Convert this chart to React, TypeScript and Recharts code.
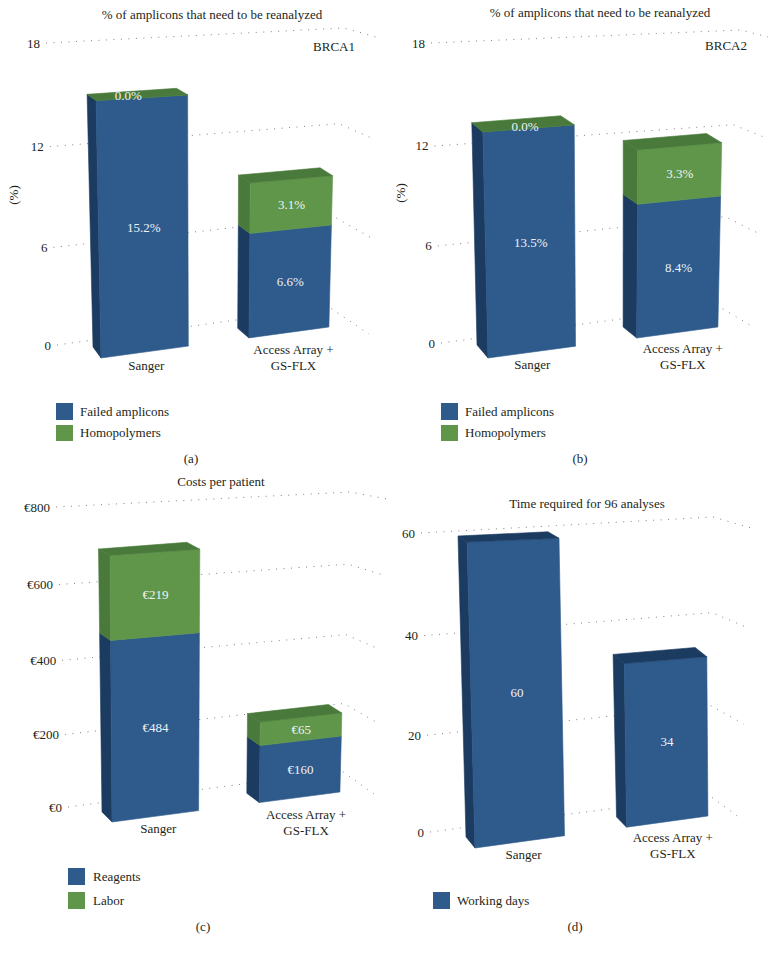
import React from "react";
import { BarChart, Bar, XAxis, YAxis, CartesianGrid, Legend, LabelList } from "recharts";

const categories = ["Sanger", "Access Array + GS-FLX"];
const brca1Failed = [15.2, 6.6];
const brca1Homo = [0.0, 3.1];
const brca2Failed = [13.5, 8.4];
const brca2Homo = [0.0, 3.3];
const costReagents = [484, 160];
const costLabor = [219, 65];
const timeDays = [60, 34];
const percentTicks = [0, 6, 12, 18];
const euroTicks = [0, 200, 400, 600, 800];
const dayTicks = [0, 20, 40, 60];

const BLUE = "#2E5A8C";
const BLUE_D = "#1C3B60";
const GREEN = "#5F964A";
const GREEN_D = "#4A7A3B";
const FONT = "'Liberation Serif', serif";
const TXT = "#231f20";
const FS = 13;
const GAP = 0.105; // bar inset from the edges of its half of the plot, as a share of plot width

type Pt = [number, number];
type Quad = [Pt, Pt, Pt, Pt]; // (first bar left, v=0),(last bar right, v=0),(last bar right, v=1),(first bar left, v=1)

function homography(q: Quad) {
  const [[x0, y0], [x1, y1], [x2, y2], [x3, y3]] = q;
  const dx1 = x1 - x2, dx2 = x3 - x2, dy1 = y1 - y2, dy2 = y3 - y2;
  const sx = x0 - x1 + x2 - x3, sy = y0 - y1 + y2 - y3;
  const den = dx1 * dy2 - dx2 * dy1;
  const g = (sx * dy2 - dx2 * sy) / den;
  const h = (dx1 * sy - sx * dy1) / den;
  const a = x1 - x0 + g * x1, b = x3 - x0 + h * x3;
  const d = y1 - y0 + g * y1, e = y3 - y0 + h * y3;
  return (u: number, v: number): Pt => {
    const s = (u - GAP) / (1 - 2 * GAP);
    const w = g * s + h * v + 1;
    return [(a * s + b * v + x0) / w, (d * s + e * v + y0) / w];
  };
}

type Series = { name: string; key: string; values: number[]; color: string; side: string; fmt: (n: number) => string };
type PanelCfg = {
  box: [number, number, number, number];
  series: Series[];
  max: number;
  ticks: number[];
  tickFmt: (n: number) => string;
  front: Quad;
  back: Quad;
  wall: { l0: Pt; l1: Pt; b0: Pt; b1: Pt; e0: Pt; e1: Pt };
  labelOff: [Pt, Pt];
  zeroDx: number;
  legend: { x: number; y: number; gap: number; textDx: number };
  texts: { t: string; x: number; y: number; rot?: boolean }[];
};

const pct = (n: number) => n.toFixed(1) + "%";
const eur = (n: number) => "€" + n;
const plain = (n: number) => String(n);

const panels: PanelCfg[] = [
  {
    box: [0, 0, 388, 470],
    series: [
      { name: "Failed amplicons", key: "a", values: brca1Failed, color: BLUE, side: BLUE_D, fmt: pct },
      { name: "Homopolymers", key: "b", values: brca1Homo, color: GREEN, side: GREEN_D, fmt: pct },
    ],
    max: 18, ticks: percentTicks, tickFmt: plain,
    front: [[101, 358], [329, 327], [336, 39], [95, 50]],
    back: [[93, 347], [317, 318], [323, 32], [86, 45]],
    wall: { l0: [57, 345], l1: [46, 43], b0: [329, 307], b1: [344, 28], e0: [369, 334], e1: [376, 37] },
    labelOff: [[1, 14], [4, 17]],
    zeroDx: -14,
    legend: { x: 56, y: 403, gap: 21.5, textDx: 24 },
    texts: [
      { t: "% of amplicons that need to be reanalyzed", x: 212, y: 15 },
      { t: "BRCA1", x: 334, y: 47 },
      { t: "(%)", x: 14, y: 195, rot: true },
      { t: "(a)", x: 191, y: 459 },
    ],
  },
  {
    box: [388, 0, 388, 470],
    series: [
      { name: "Failed amplicons", key: "a", values: brca2Failed, color: BLUE, side: BLUE_D, fmt: pct },
      { name: "Homopolymers", key: "b", values: brca2Homo, color: GREEN, side: GREEN_D, fmt: pct },
    ],
    max: 18, ticks: percentTicks, tickFmt: plain,
    front: [[488, 358], [718, 327], [724, 38], [481, 52]],
    back: [[477, 345], [704, 317], [708, 30], [470, 45]],
    wall: { l0: [441, 343], l1: [431, 43], b0: [718, 306], b1: [741, 30], e0: [755, 328], e1: [768, 37] },
    labelOff: [[0, 12], [5, 16]],
    zeroDx: -4,
    legend: { x: 441, y: 403, gap: 21.5, textDx: 24 },
    texts: [
      { t: "% of amplicons that need to be reanalyzed", x: 600, y: 13 },
      { t: "BRCA2", x: 726, y: 46 },
      { t: "(%)", x: 401, y: 193, rot: true },
      { t: "(b)", x: 580, y: 459 },
    ],
  },
  {
    box: [0, 470, 388, 483],
    series: [
      { name: "Reagents", key: "a", values: costReagents, color: BLUE, side: BLUE_D, fmt: eur },
      { name: "Labor", key: "b", values: costLabor, color: GREEN, side: GREEN_D, fmt: eur },
    ],
    max: 800, ticks: euroTicks, tickFmt: eur,
    front: [[112, 822], [340, 792], [347, 503], [109.7, 517]],
    back: [[102, 812], [327, 783], [333, 495], [98, 511]],
    wall: { l0: [68, 807], l1: [56, 507], b0: [342, 771], b1: [350, 492], e0: [374, 794], e1: [387, 499] },
    labelOff: [[2.5, 12.5], [6, 17.5]],
    zeroDx: 0,
    legend: { x: 68, y: 868, gap: 24, textDx: 25 },
    texts: [
      { t: "Costs per patient", x: 221, y: 482 },
      { t: "(c)", x: 203, y: 927 },
    ],
  },
  {
    box: [388, 470, 388, 483],
    series: [
      { name: "Working days", key: "a", values: timeDays, color: BLUE, side: BLUE_D, fmt: plain },
    ],
    max: 60, ticks: dayTicks, tickFmt: plain,
    front: [[475, 848], [708, 816], [706, 532], [467, 542]],
    back: [[466, 837], [698, 806], [693, 525], [458, 536]],
    wall: { l0: [430, 832], l1: [421, 533], b0: [710, 796], b1: [713, 517], e0: [740, 818], e1: [751, 528] },
    labelOff: [[3, 13], [5, 15.5]],
    zeroDx: 0,
    legend: { x: 433, y: 892, gap: 24, textDx: 24 },
    texts: [
      { t: "Time required for 96 analyses", x: 587, y: 504 },
      { t: "(d)", x: 575, y: 927 },
    ],
  },
];

const PL = 50, PR = 10, PT = 30, PB = 60;
const lerp = (a: Pt, b: Pt, t: number): Pt => [a[0] + (b[0] - a[0]) * t, a[1] + (b[1] - a[1]) * t];
const poly = (pts: Pt[]) => pts.map((p) => p[0].toFixed(1) + "," + p[1].toFixed(1)).join(" ");

function Panel({ cfg }: { cfg: PanelCfg }) {
  const [bx, by, W, H] = cfg.box;
  const pw = W - PL - PR;
  const ph = H - PT - PB;
  const bottom = H - PB;
  const F = homography(cfg.front.map((p) => [p[0] - bx, p[1] - by]) as Quad);
  const Bk = homography(cfg.back.map((p) => [p[0] - bx, p[1] - by]) as Quad);
  const toU = (x: number) => (x - PL) / pw;
  const toV = (y: number) => (bottom - y) / ph;
  const P = (u: number, v: number, d: number) => lerp(F(u, v), Bk(u, v), d);
  const warp = (v: number) => v / (1 + 0.045 * (1 - v));
  const local = (p: Pt): Pt => [p[0] - bx, p[1] - by];
  const wall = (v: number) => {
    const t = warp(v);
    return {
      l: lerp(local(cfg.wall.l0), local(cfg.wall.l1), t),
      b: lerp(local(cfg.wall.b0), local(cfg.wall.b1), t),
      e: lerp(local(cfg.wall.e0), local(cfg.wall.e1), t),
    };
  };
  const data = categories.map((c, i) => {
    const row: Record<string, number | string> = { name: c };
    cfg.series.forEach((s) => (row[s.key] = s.values[i]));
    return row;
  });

  const gridLine = (p: any) => {
    const w = wall(toV(p.y1));
    return (
      <polyline
        key={p.key ?? p.index}
        points={poly([w.l, w.b, w.e])}
        fill="none"
        stroke="#808080"
        strokeWidth={1}
        strokeDasharray="1 6.5"
      />
    );
  };

  const yTick = (p: any) => {
    const w = wall(toV(p.y));
    return (
      <text x={w.l[0] - 6} y={w.l[1]} textAnchor="end" dominantBaseline="central" fontFamily={FONT} fontSize={FS} fill={TXT}>
        {cfg.tickFmt(p.payload.value)}
      </text>
    );
  };

  const xTick = (p: any) => {
    const i = p.index ?? categories.indexOf(p.payload.value);
    const base = P(toU(p.x), 0, 0);
    const off = cfg.labelOff[i];
    const lines = String(p.payload.value).replace("+ ", "+\n").split("\n");
    return (
      <g>
        {lines.map((l, k) => (
          <text key={k} x={base[0] + off[0]} y={base[1] + off[1] + k * 16} textAnchor="middle" dominantBaseline="central" fontFamily={FONT} fontSize={FS} fill={TXT}>
            {l}
          </text>
        ))}
      </g>
    );
  };

  const face = (pts: Pt[], fill: string) => (
    <polygon points={poly(pts)} fill={fill} stroke={fill} strokeWidth={0.6} strokeLinejoin="round" />
  );

  const makeShape = (s: Series, isTop: boolean) => (p: any) => {
    const yTop = Math.min(p.y, p.y + p.height);
    const yBot = Math.max(p.y, p.y + p.height);
    const u0 = toU(p.x), u1 = toU(p.x + p.width);
    const vb = toV(yBot), vt = toV(yTop);
    return (
      <g>
        {face([P(u0, vb, 0), P(u0, vt, 0), P(u0, vt, 1), P(u0, vb, 1)], s.side)}
        {face([P(u0, vb, 0), P(u1, vb, 0), P(u1, vt, 0), P(u0, vt, 0)], s.color)}
        {isTop && face([P(u0, vt, 0), P(u1, vt, 0), P(u1, vt, 1), P(u0, vt, 1)], s.side)}
      </g>
    );
  };

  const makeLabel = (s: Series) => (p: any) => {
    const yTop = Math.min(p.y, p.y + p.height);
    const yBot = Math.max(p.y, p.y + p.height);
    const c = P(toU(p.x + p.width / 2), toV((yTop + yBot) / 2), 0);
    const zero = Number(p.value) === 0;
    return (
      <text x={c[0] + (zero ? cfg.zeroDx : 0)} y={c[1] + (zero ? -2 : 0)} textAnchor="middle" dominantBaseline="central" fontFamily={FONT} fontSize={FS} fill="#eef3f7">
        {s.fmt(Number(p.value))}
      </text>
    );
  };

  const legendContent = (props: any) => {
    const order = (it: any) => cfg.series.findIndex((s) => s.name === it.value);
    const items = [...(props.payload || [])].sort((a: any, b: any) => order(a) - order(b));
    return (
      <div style={{ position: "relative", width: 170, height: cfg.legend.gap * 2 + 17 }}>
        {items.map((it: any, i: number) => (
          <div key={i} style={{ position: "absolute", left: 0, top: i * cfg.legend.gap, height: 17, display: "flex", alignItems: "center", whiteSpace: "nowrap" }}>
            <span style={{ display: "inline-block", width: 16.5, height: 16.5, background: it.color, marginRight: cfg.legend.textDx - 16.5 }} />
            <span style={{ fontFamily: FONT, fontSize: FS, color: TXT }}>{it.value}</span>
          </div>
        ))}
      </div>
    );
  };

  return (
    <div style={{ position: "absolute", left: bx, top: by, width: W, height: H }}>
      <BarChart
        width={W}
        height={H}
        data={data}
        margin={{ top: PT, right: PR, left: 0, bottom: 0 }}
        barCategoryGap={`${GAP * 200}%`}
      >
        <CartesianGrid vertical={false} horizontal={gridLine} />
        <XAxis dataKey="name" height={PB} axisLine={false} tickLine={false} interval={0} tick={xTick} />
        <YAxis width={PL} domain={[0, cfg.max]} ticks={cfg.ticks} axisLine={false} tickLine={false} tick={yTick} />
        <Legend
          layout="vertical"
          align="center"
          verticalAlign="middle"
          content={legendContent}
          wrapperStyle={{ left: cfg.legend.x - bx, top: cfg.legend.y - by, width: 170 }}
        />
        {cfg.series.map((s, i) => (
          <Bar
            key={s.key}
            dataKey={s.key}
            name={s.name}
            stackId="stack"
            fill={s.color}
            isAnimationActive={false}
            shape={makeShape(s, i === cfg.series.length - 1)}
          >
            <LabelList dataKey={s.key} content={makeLabel(s)} />
          </Bar>
        ))}
      </BarChart>
      {cfg.texts.map((t, i) => (
        <div
          key={i}
          style={{
            position: "absolute",
            left: t.x - bx,
            top: t.y - by,
            transform: "translate(-50%,-50%)" + (t.rot ? " rotate(-90deg)" : ""),
            fontFamily: FONT,
            fontSize: FS,
            color: TXT,
            whiteSpace: "nowrap",
          }}
        >
          {t.t}
        </div>
      ))}
    </div>
  );
}

export default function App() {
  return (
    <div style={{ position: "absolute", left: 0, top: 0, width: 776, height: 953, background: "#fff", overflow: "hidden" }}>
      {panels.map((c, i) => (
        <Panel key={i} cfg={c} />
      ))}
    </div>
  );
}
